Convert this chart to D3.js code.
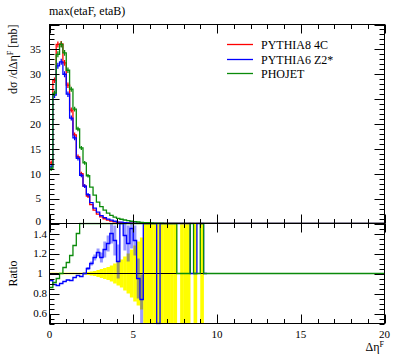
<!DOCTYPE html>
<html><head><meta charset="utf-8">
<script src="https://cdn.jsdelivr.net/npm/d3@7"></script>
<style>
body{margin:0;background:#fff}
</style>
</head><body>
<svg id="c" width="397" height="358" font-family="'Liberation Serif', 'DejaVu Serif', serif"></svg>
<script>
// ---------------- data ----------------
const binWidth = 0.2;           // bins start at 0, 47 bins shown with content
const title = "max(etaF, etaB)";
const seriesNames = ["PYTHIA8 4C", "PYTHIA6 Z2*", "PHOJET"];
const xTickLabels = [0, 5, 10, 15, 20];
const yTickLabels = [0, 5, 10, 15, 20, 25, 30, 35];
const ratioTickLabels = [0.6, 0.8, 1, 1.2, 1.4];

const pythia8 = [12.2, 28.8, 36.0, 36.1, 32.3, 27.8, 22.8, 17.8, 13.4, 10.0,
  7.5, 5.5, 3.8, 2.7, 1.9, 1.35, 0.95, 0.68, 0.48, 0.34,
  0.24, 0.17, 0.12, 0.085, 0.06, 0.042, 0.03, 0.02, 0.014, 0.01,
  0.008, 0.006, 0.005, 0.004, 0.003, 0.003, 0.002, 0.002, 0, 0.001,
  0.001, 0.001, 0, 0.001, 0, 0.001, 0];
const pythia6 = [11.4, 25.8, 31.7, 32.5, 30.0, 26.0, 21.2, 17.2, 13.1, 9.7,
  7.5, 5.8, 4.2, 3.1, 2.3, 1.57, 1.18, 0.88, 0.67, 0.45,
  0.27, 0.27, 0.17, 0.11, 0.087, 0.056, 0.028, 0.015, 0.03, 0.02,
  0.015, 0.01, 0, 0.008, 0.007, 0.006, 0.005, 0.005, 0.004, 0.004,
  0.003, 0.003, 0.001, 0.001, 0.002, 0.002, 0];
const phojet = [11.0, 26.2, 34.0, 36.0, 34.3, 30.8, 27.0, 23.0, 19.0, 15.2,
  12.2, 9.6, 7.3, 5.7, 4.3, 3.4, 2.7, 2.1, 1.65, 1.3,
  1.05, 0.85, 0.7, 0.56, 0.45, 0.37, 0.3, 0.24, 0.19, 0.15,
  0.12, 0.09, 0.07, 0.05, 0.04, 0.03, 0.02, 0.015, 0, 0,
  0, 0, 0, 0, 0, 0, 0];
// statistical errors (first bins, main panel)
const pythia8Err = [0.25, 0.35, 0.4, 0.4, 0.38, 0.35, 0.3, 0.28, 0.25, 0.2, 0.18, 0.15];
const pythia6Err = [0.25, 0.35, 0.4, 0.4, 0.38, 0.35, 0.3, 0.28, 0.25, 0.2, 0.18, 0.15];
const phojetErr  = [0.25, 0.35, 0.4, 0.4, 0.38, 0.35, 0.3, 0.28, 0.25, 0.2, 0.18, 0.15];

// ratio panel (to PYTHIA8 4C); 9 = off scale high
const ratioPythia6 = [0.93, 0.89, 0.88, 0.9, 0.92, 0.935, 0.93, 0.96, 0.98, 0.97,
  1.0, 1.05, 1.1, 1.16, 1.21, 1.16, 1.24, 1.3, 1.4, 1.33,
  1.12, 9, 1.38, 1.3, 1.45, 1.33, 0.95, 0.74, 9, 9,
  9, 9, 0, 9, 9, 9, 9, 9, 9, 9,
  9, 9, 1, 1, 9, 9, 1];
const ratioPythia6Err = [0.005, 0.005, 0.005, 0.005, 0.005, 0.005, 0.005, 0.005, 0.005, 0.005,
  0.01, 0.015, 0.02, 0.03, 0.04, 0.05, 0.08, 0.08, 0.1, 0.15,
  0.17, 0.2, 0.15, 0.18, 0.2, 0.15, 0.2, 0.25, 0, 0,
  0, 0, 0, 0.35, 0, 0, 0, 0, 0, 0,
  0, 0, 0, 0, 0, 0, 0];
const ratioPhojet = [0.86, 0.91, 0.95, 1.0, 1.06, 1.11, 1.18, 1.28, 1.4, 1.52,
  9, 9, 9, 9, 9, 9, 9, 9, 9, 9,
  9, 9, 9, 9, 9, 9, 9, 9, 9, 9,
  9, 9, 9, 9, 9, 9, 9, 9, 1, 1,
  1, 1, 9, 1, 1, 9, 1];
// relative stat. uncertainty of the reference (yellow band); 0 = no band
const refRelErr = [0.008, 0.008, 0.008, 0.008, 0.008, 0.008, 0.008, 0.008, 0.008, 0.008,
  0.012, 0.015, 0.02, 0.025, 0.035, 0.045, 0.055, 0.065, 0.08, 0.1,
  0.12, 0.14, 0.17, 0.2, 0.24, 0.28, 0.32, 0.36, 1, 1,
  1, 1, 1, 1, 1, 1, 1, 1, 0, 1,
  1, 1, 0, 1, 0, 1, 0];

const colors = ["#ff0000", "#0000ff", "#0a8a0a"];

// ---------------- layout ----------------
const svg = d3.select("#c");
const x = d3.scaleLinear().domain([0, 20]).range([49.5, 384.5]);
const yM = d3.scaleLinear().domain([0, 40]).range([223.5, 24.5]);
const yR = d3.scaleLinear().domain([0.5, 1.5]).range([323.5, 223.5]).clamp(true);

function stepPts(vals, tail) {
  const pts = [];
  vals.forEach((v, i) => { pts.push([i * binWidth, v]); pts.push([(i + 1) * binWidth, v]); });
  if (tail !== null) {
    pts.push([vals.length * binWidth, tail]);
    pts.push([20, tail]);
  }
  return pts;
}

// clip paths
const defs = svg.append("defs");
defs.append("clipPath").attr("id", "cm").append("rect")
  .attr("x", x(0)).attr("y", yM(40)).attr("width", x(20) - x(0)).attr("height", yM(0) - yM(40));
defs.append("clipPath").attr("id", "cr").append("rect")
  .attr("x", x(0)).attr("y", yR(1.5) - 1).attr("width", x(20) - x(0)).attr("height", yR(0.5) - yR(1.5) + 2);

// ---------------- ratio panel ----------------
const gR = svg.append("g").attr("clip-path", "url(#cr)");
gR.selectAll("rect.band").data(refRelErr.map((e, i) => ({e, i})).filter(d => d.e > 0))
  .join("rect").attr("class", "band")
  .attr("x", d => x(d.i * binWidth))
  .attr("width", d => x((d.i + 1) * binWidth) - x(d.i * binWidth) + 0.3)
  .attr("y", d => yR(1 + d.e))
  .attr("height", d => yR(1 - d.e) - yR(1 + d.e))
  .attr("fill", "#ffff00");
gR.append("line").attr("x1", x(0)).attr("x2", x(20)).attr("y1", yR(1)).attr("y2", yR(1))
  .attr("stroke", "#000").attr("stroke-width", 1);
gR.selectAll("rect.berr").data(ratioPythia6Err.map((e, i) => ({e, i, v: ratioPythia6[i]})).filter(d => d.e > 0))
  .join("rect").attr("class", "berr")
  .attr("x", d => x((d.i + 0.5) * binWidth) - 1.5).attr("width", 3)
  .attr("y", d => yR(d.v + d.e)).attr("height", d => Math.max(0.5, yR(d.v - d.e) - yR(d.v + d.e)))
  .attr("fill", "#0000ff").attr("opacity", 0.4);
const lineR = d3.line().x(d => x(d[0])).y(d => yR(d[1]));
gR.append("path").attr("d", lineR(stepPts(ratioPythia6, null))).attr("fill", "none")
  .attr("stroke", colors[1]).attr("stroke-width", 1.3);
gR.append("path").attr("d", lineR(stepPts(ratioPhojet, 1))).attr("fill", "none")
  .attr("stroke", colors[2]).attr("stroke-width", 1.3);

// ---------------- main panel ----------------
const gM = svg.append("g").attr("clip-path", "url(#cm)");
const lineM = d3.line().x(d => x(d[0])).y(d => yM(d[1]));
[[pythia8, pythia8Err], [pythia6, pythia6Err], [phojet, phojetErr]].forEach(([vals, errs], k) => {
  gM.selectAll("line.e" + k).data(errs.map((e, i) => ({e, i, v: vals[i]})))
    .join("line").attr("class", "e" + k)
    .attr("x1", d => x((d.i + 0.5) * binWidth)).attr("x2", d => x((d.i + 0.5) * binWidth))
    .attr("y1", d => yM(d.v + d.e) - 1).attr("y2", d => yM(d.v - d.e) + 1)
    .attr("stroke", colors[k]).attr("stroke-width", 1.3);
  gM.append("path").attr("d", lineM(stepPts(vals, 0))).attr("fill", "none")
    .attr("stroke", colors[k]).attr("stroke-width", 1.3);
});

// ---------------- frames & ticks ----------------
const ax = svg.append("g").attr("stroke", "#000").attr("stroke-width", 1).attr("fill", "none");
ax.append("rect").attr("x", x(0)).attr("y", yM(40)).attr("width", x(20) - x(0)).attr("height", yM(0) - yM(40));
ax.append("rect").attr("x", x(0)).attr("y", yR(1.5)).attr("width", x(20) - x(0)).attr("height", yR(0.5) - yR(1.5));

function tick(x1, y1, x2, y2) { ax.append("line").attr("x1", x1).attr("y1", y1).attr("x2", x2).attr("y2", y2); }
d3.range(0, 21, 1).forEach(v => {
  const L = (v % 5 === 0) ? 9 : 4.5, px = Math.round(x(v)) + 0.5;
  tick(px, yM(40), px, yM(40) + L);
  tick(px, yM(0), px, yM(0) - L);
  tick(px, yR(1.5), px, yR(1.5) + L);
  tick(px, yR(0.5), px, yR(0.5) - L);
});
d3.range(0, 41, 1).forEach(v => {
  const L = (v % 5 === 0) ? 10 : 5, py = Math.round(yM(v)) + 0.5;
  tick(x(0), py, x(0) + L, py);
  tick(x(20), py, x(20) - L, py);
});
d3.range(0, 21, 1).forEach(j => {
  const v = 0.5 + j * 0.05;
  const major = ratioTickLabels.some(t => Math.abs(t - v) < 1e-6);
  const L = major ? 10 : 5, py = Math.round(yR(v)) + 0.5;
  tick(x(0), py, x(0) + L, py);
  tick(x(20), py, x(20) - L, py);
});

// ---------------- labels ----------------
const fs = 11;
svg.selectAll("text.yt").data(yTickLabels).join("text").attr("class", "yt")
  .attr("x", 41).attr("y", d => yM(d) - (d === 0 ? 2 : 0)).attr("dy", "0.35em")
  .attr("text-anchor", "end").attr("font-size", fs).text(d => d);
svg.selectAll("text.rt").data(ratioTickLabels).join("text").attr("class", "rt")
  .attr("x", 40).attr("y", d => yR(d) + (d === 1.4 ? 1 : 0)).attr("dy", "0.35em")
  .attr("text-anchor", "middle").attr("font-size", fs).text(d => d);
svg.selectAll("text.xt").data(xTickLabels).join("text").attr("class", "xt")
  .attr("x", d => x(d)).attr("y", 338)
  .attr("text-anchor", "middle").attr("font-size", fs).text(d => d);

svg.append("text").attr("x", 49).attr("y", 15).attr("font-size", 12).text(title);

const yl = svg.append("text").attr("transform", "translate(17,24.5) rotate(-90)")
  .attr("text-anchor", "end").attr("font-size", 12);
yl.append("tspan").text("dσ /dΔη");
yl.append("tspan").attr("dy", -4).attr("font-size", 8).text("F");
yl.append("tspan").attr("dy", 4).text(" [mb]");

svg.append("text").attr("transform", "translate(17," + yR(1) + ") rotate(-90)")
  .attr("text-anchor", "middle").attr("font-size", 12).text("Ratio");

const xl = svg.append("text").attr("x", 384).attr("y", 351).attr("text-anchor", "end").attr("font-size", 12);
xl.append("tspan").text("Δη");
xl.append("tspan").attr("dy", -4).attr("font-size", 8).text("F");

// legend
const legY = [44.5, 59.5, 73.5];
seriesNames.forEach((n, k) => {
  svg.append("line").attr("x1", 227).attr("x2", 253).attr("y1", legY[k]).attr("y2", legY[k])
    .attr("stroke", colors[k]).attr("stroke-width", 1.3);
  svg.append("text").attr("x", 261).attr("y", legY[k] + 4).attr("font-size", 12).text(n);
});
</script>
</body></html>
